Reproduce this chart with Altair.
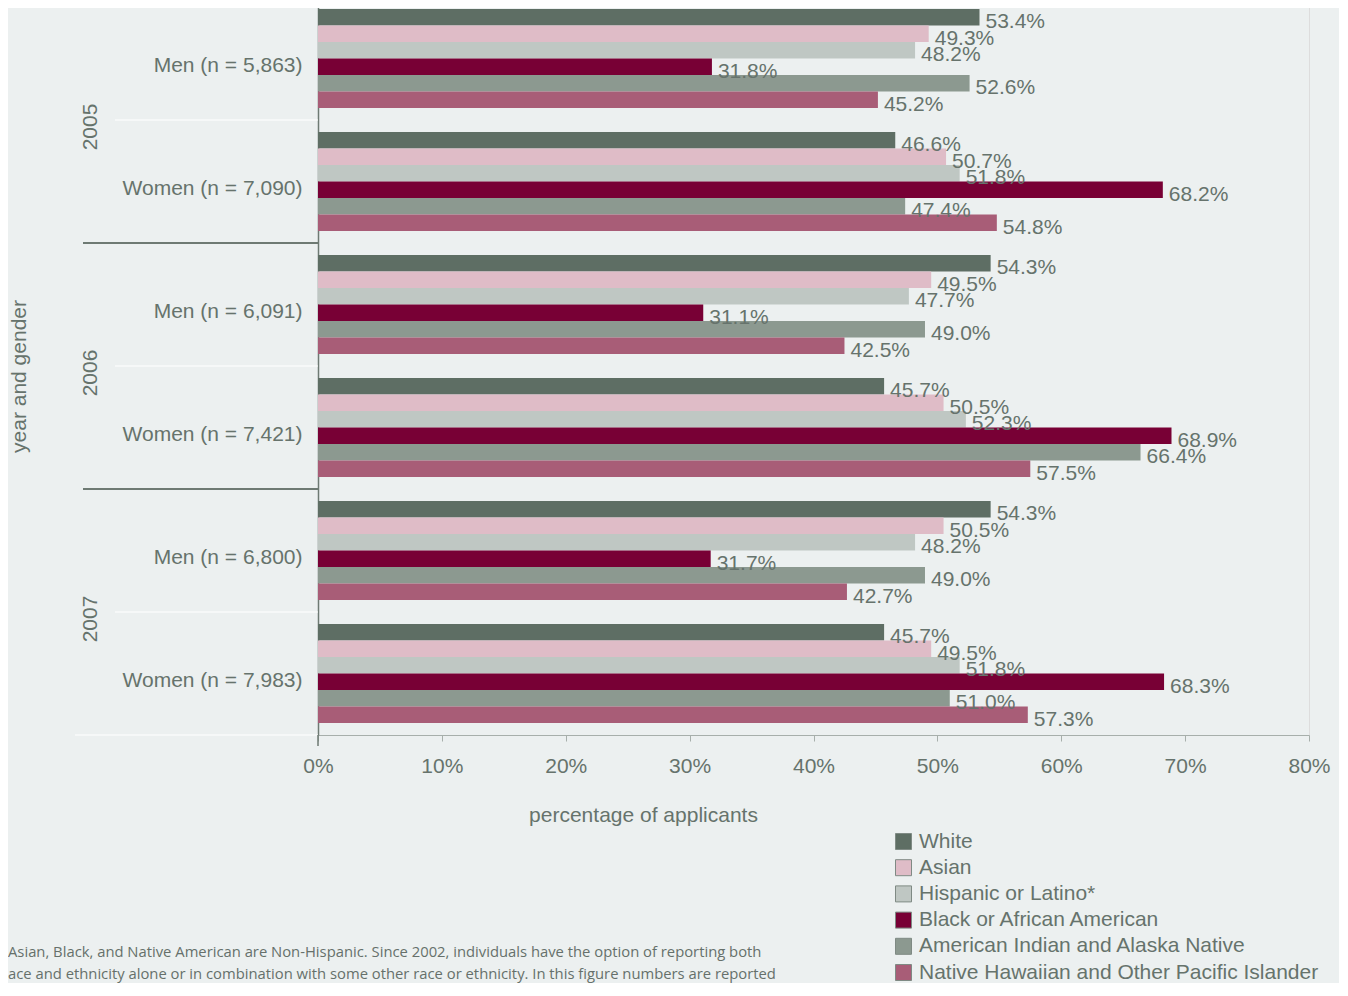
import altair as alt
import pandas as pd

FONT = "Liberation Sans"
TXT = "#66736C"
AXIS = "#6E7A73"
BG = "#ECF0F0"

races = ["White", "Asian", "Hispanic or Latino*", "Black or African American",
         "American Indian and Alaska Native", "Native Hawaiian and Other Pacific Islander"]
colors = ["#5E6E64", "#DFBCC7", "#BFC7C3", "#780035", "#8C9990", "#A85D77"]

groups = ["Men (n = 5,863)", "Women (n = 7,090)", "Men (n = 6,091)",
          "Women (n = 7,421)", "Men (n = 6,800)", "Women (n = 7,983)"]
years = ["2005", "2006", "2007"]

men_2005 = [53.4, 49.3, 48.2, 31.8, 52.6, 45.2]
women_2005 = [46.6, 50.7, 51.8, 68.2, 47.4, 54.8]
men_2006 = [54.3, 49.5, 47.7, 31.1, 49.0, 42.5]
women_2006 = [45.7, 50.5, 52.3, 68.9, 66.4, 57.5]
men_2007 = [54.3, 50.5, 48.2, 31.7, 49.0, 42.7]
women_2007 = [45.7, 49.5, 51.8, 68.3, 51.0, 57.3]
series = [men_2005, women_2005, men_2006, women_2006, men_2007, women_2007]

x_ticks = [0, 10, 20, 30, 40, 50, 60, 70, 80]

footnote = ("Asian, Black, and Native American are Non-Hispanic. Since 2002, individuals have the option of reporting both\n"
            "ace and ethnicity alone or in combination with some other race or ethnicity. In this figure numbers are reported")

rows = []
for g, vals in zip(groups, series):
    for r, v in zip(races, vals):
        rows.append({"grp": g, "race": r, "value": v, "label": f"{v:.1f}%"})
df = pd.DataFrame(rows)

HEIGHT = 738
PAD_IN = 0.195
GAP_HALF = PAD_IN * (HEIGHT / 6) / 2

yscale = alt.Scale(domain=groups, paddingInner=PAD_IN, paddingOuter=PAD_IN / 2)
yaxis = alt.Axis(title="year and gender", titleX=-299, titleY=379, titleAngle=270,
                 titleBaseline="middle", titleAlign="center", titleFontSize=21,
                 titleFontWeight="normal", titleColor=TXT, titleFont=FONT,
                 labelFontSize=21, labelColor=TXT, labelFont=FONT, labelPadding=16,
                 labelOffset=7, labelLimit=0, ticks=False, domainColor=AXIS, domainWidth=1.5)

yenc = alt.Y("grp:N", sort=groups, scale=yscale, axis=yaxis)

xenc = alt.X("value:Q", scale=alt.Scale(domain=[0, 80], nice=False),
             axis=alt.Axis(values=x_ticks, labelExpr="datum.value + '%'", grid=False,
                           labelFlush=False,
                           domainColor="#A7AFAB", tickColor="#A7AFAB", tickSize=6,
                           labelFontSize=21, labelColor=TXT, labelFont=FONT, labelPadding=14,
                           title="percentage of applicants", titleX=325, titleY=80,
                           titleBaseline="middle", titleAlign="center", titleFontSize=21,
                           titleFontWeight="normal", titleColor=TXT, titleFont=FONT))

yoff = alt.YOffset("race:N", sort=races, scale=alt.Scale(paddingInner=0, paddingOuter=0))

bars = alt.Chart(df).mark_bar().encode(
    y=yenc, yOffset=yoff, x=xenc,
    color=alt.Color("race:N", sort=races, scale=alt.Scale(domain=races, range=colors),
                    legend=alt.Legend(orient="none", legendX=575, legendY=834, title=None,
                                      symbolType="square", symbolSize=256,
                                      symbolStrokeColor="#7F8A84", symbolStrokeWidth=1,
                                      labelFontSize=21, labelColor=TXT, labelFont=FONT,
                                      rowPadding=4.2, labelOffset=5, padding=0, labelLimit=0)),
)

labels = alt.Chart(df).mark_text(align="left", baseline="middle", dx=6, dy=5,
                                 fontSize=21, font=FONT, color=TXT).encode(
    y=yenc, yOffset=yoff, x=xenc, text="label:N")

# year labels sit in the gap between the Men and Women groups of each year
year_df = pd.DataFrame({"year": years, "grp": [groups[1], groups[3], groups[5]]})
year_text = alt.Chart(year_df).mark_text(angle=270, align="center", baseline="middle",
                                         fontSize=21, font=FONT, color=TXT).encode(
    y=yenc, yOffset=alt.value(-GAP_HALF + 7), x=alt.value(-227), text="year:N")

gender_rules = alt.Chart(pd.DataFrame({"grp": [groups[1], groups[3], groups[5]]})).mark_rule(
    color="#FFFFFF", strokeWidth=1.2).encode(y=yenc, yOffset=alt.value(-GAP_HALF),
                                             x=alt.value(-203), x2=alt.value(0))

bottom_rule = alt.Chart(pd.DataFrame({"k": [1]})).mark_rule(
    color="#FFFFFF", strokeWidth=1.2).encode(y=alt.value(HEIGHT),
                                             x=alt.value(-243), x2=alt.value(0))

axis_stub = alt.Chart(pd.DataFrame({"k": [1]})).mark_rule(
    color=AXIS, strokeWidth=1.5).encode(x=alt.value(0), y=alt.value(HEIGHT),
                                        y2=alt.value(HEIGHT + 11))

year_rules = alt.Chart(pd.DataFrame({"grp": [groups[2], groups[4]]})).mark_rule(
    color=AXIS, strokeWidth=2).encode(y=yenc, yOffset=alt.value(-GAP_HALF),
                                      x=alt.value(-235), x2=alt.value(0))

foot = alt.Chart(pd.DataFrame({"t": [footnote]})).mark_text(
    align="left", baseline="top", lineBreak="\n", lineHeight=22, fontSize=14.8,
    font="Open Sans", color="#66706B").encode(x=alt.value(-310), y=alt.value(948), text="t:N")

chart = alt.layer(gender_rules, bottom_rule, year_rules, axis_stub, bars, labels, year_text, foot).properties(
    width=991, height=HEIGHT,
    padding={"top": -11, "left": 0, "right": 8, "bottom": 0},
    background=BG
).configure_view(stroke=None).configure(font=FONT)

chart.save("out.html", embed_options={"renderer": "svg", "actions": False})
